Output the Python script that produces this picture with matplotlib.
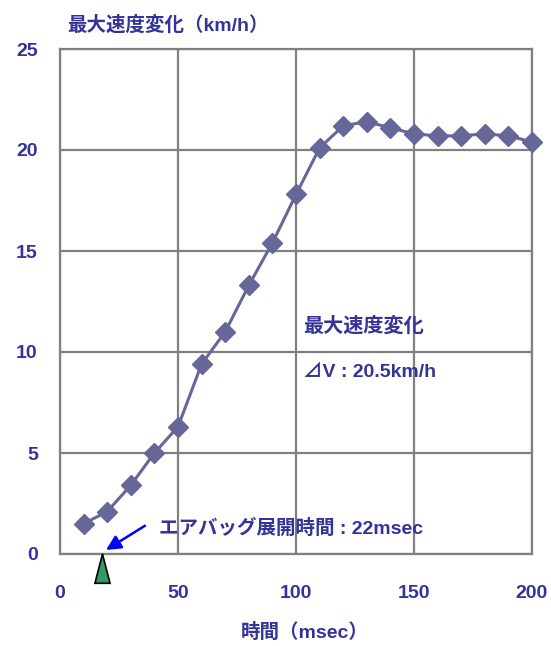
import matplotlib.pyplot as plt
from matplotlib.patches import Polygon

# data
time_ms = [10, 20, 30, 40, 50, 60, 70, 80, 90, 100,
           110, 120, 130, 140, 150, 160, 170, 180, 190, 200]
dv_kmh = [1.5, 2.1, 3.4, 5.0, 6.3, 9.4, 11.0, 13.3, 15.4, 17.8,
          20.1, 21.2, 21.4, 21.1, 20.8, 20.7, 20.7, 20.8, 20.7, 20.4]
x_ticks = [0, 50, 100, 150, 200]
y_ticks = [0, 5, 10, 15, 20, 25]
airbag_ms = 18

txt_color = '#333399'
line_color = '#666699'
grid_color = '#808080'
fam = ['Liberation Sans', 'Noto Sans CJK JP', 'DejaVu Sans']
plt.rcParams['font.family'] = fam
plt.rcParams['font.weight'] = 'bold'

fig = plt.figure(figsize=(5.51, 6.46), dpi=100)
ax = fig.add_axes([60 / 551, 1 - 554 / 646, 472 / 551, 505 / 646])

ax.plot(time_ms, dv_kmh, color=line_color, lw=2.2, marker='D', ms=10.5,
        mec=line_color, mfc=line_color, zorder=3, clip_on=False)

ax.set_xlim(0, 200)
ax.set_ylim(0, 25)
ax.set_xticks(x_ticks)
ax.set_yticks(y_ticks)
ax.grid(True, color=grid_color, lw=1.6)
for s in ax.spines.values():
    s.set_color(grid_color)
    s.set_linewidth(1.6)
ax.tick_params(length=0, labelcolor=txt_color, labelsize=14)
ax.tick_params(axis='y', pad=16)
ax.tick_params(axis='x', pad=22)
for lab in ax.get_xticklabels() + ax.get_yticklabels():
    lab.set_fontweight('bold')

# airbag deployment marker below the axis
tri = Polygon([[airbag_ms - 3.2, -1.45], [airbag_ms + 3.2, -1.45], [airbag_ms, 0]],
              closed=True, facecolor='#339966', edgecolor='black', lw=1.2,
              clip_on=False, zorder=4)
ax.add_patch(tri)
ax.annotate('', xy=(airbag_ms + 1.5, 0.2), xytext=(36, 1.4),
            arrowprops=dict(arrowstyle='-|>', color='#0000ff', lw=1.8,
                            mutation_scale=22, shrinkA=0, shrinkB=0))
ax.text(42, 1.25, 'エアバッグ展開時間 : 22msec', color=txt_color, fontsize=14,
        fontweight='bold', va='center', ha='left')

ax.text(103, 11.3, '最大速度変化', color=txt_color, fontsize=14.5,
        fontweight='bold', va='center', ha='left')
ax.text(103, 9.0, '⊿V : 20.5km/h', color=txt_color, fontsize=14,
        fontweight='bold', va='center', ha='left')

fig.text(67 / 551, 1 - 25 / 646, '最大速度変化（km/h）', color=txt_color,
         fontsize=14, fontweight='bold', va='center', ha='left')
fig.text(305 / 551, 1 - 632 / 646, '時間（msec）', color=txt_color,
         fontsize=14, fontweight='bold', va='center', ha='center')

fig.savefig('out.png', dpi=100)
